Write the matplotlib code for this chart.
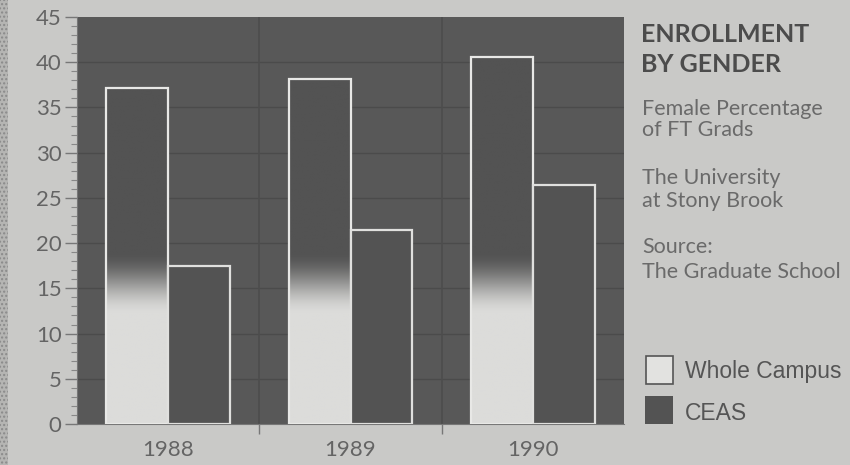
"""
Enrollment by gender: female percentage of full-time grads,
Whole Campus vs CEAS, The University at Stony Brook.
"""
import numpy as np
import matplotlib
matplotlib.use('Agg')
import matplotlib.pyplot as plt
from matplotlib.patches import Rectangle

years = ['1988', '1989', '1990']
whole_campus = [37.2, 38.2, 40.6]
ceas = [17.5, 21.4, 26.4]

paper = '#c9c9c7'
plot_bg = '#585858'
bar_dark = '#535353'
bar_light = '#dcdcda'
text_col = '#646464'

fig = plt.figure(figsize=(8.5, 4.65), dpi=100, facecolor=paper)
ax = fig.add_axes([77 / 850, 1 - 424 / 465, (624 - 77) / 850, (424 - 17) / 465])
ax.set_facecolor(plot_bg)

x = np.arange(len(years))
width = 0.34

wc_bars = ax.bar(x - width / 2, whole_campus, width, color='none',
                 edgecolor='#e8e8e6', linewidth=1.6, zorder=3)
ceas_bars = ax.bar(x + width / 2, ceas, width, color=bar_dark,
                   edgecolor='#e0e0de', linewidth=1.6, zorder=3)

# whole campus bars fade from light at the bottom to dark near 12-19
grad = np.linspace(0, 45, 300)
t = np.clip((grad - 12.0) / 7.0, 0, 1)
shade = t * t * (3 - 2 * t)
cmap = matplotlib.colors.LinearSegmentedColormap.from_list('fade', [bar_light, bar_dark])
for b in wc_bars:
    x0, w, h = b.get_x(), b.get_width(), b.get_height()
    img = ax.imshow(shade[:, None], cmap=cmap, vmin=0, vmax=1, origin='lower',
                    extent=[x0, x0 + w, 0, 45], aspect='auto', zorder=2,
                    interpolation='bilinear')
    clip = Rectangle((x0, 0), w, h, transform=ax.transData)
    img.set_clip_path(clip)

ax.set_xlim(-0.5, len(years) - 0.5)
ax.set_ylim(0, 45)

# faint grid on the dark background
for yv in range(5, 45, 5):
    ax.axhline(yv, color='#4b4b4b', linewidth=1.0, zorder=1)
for xv in x[:-1] + 0.5:
    ax.axvline(xv, color='#4d4d4d', linewidth=1.2, zorder=1)

ax.set_yticks(range(0, 46, 5))
ax.set_yticks(range(0, 46, 1), minor=True)
ax.set_xticks(x[:-1] + 0.5)
ax.set_xticklabels([])
ax.tick_params(axis='y', which='major', length=9, width=1, color='#777777',
               labelsize=16, labelcolor=text_col, pad=2)
ax.tick_params(axis='y', which='minor', length=4, width=0.8, color='#888888')
ax.tick_params(axis='x', which='major', length=7, width=1, color='#777777')
for yr_x, yr in zip(x, years):
    ax.text(yr_x, -1.8, yr, ha='center', va='top', fontsize=16, color=text_col,
            family='Lato')
for lab in ax.get_yticklabels():
    lab.set_family('Lato')

for side in ['top', 'right']:
    ax.spines[side].set_visible(False)
ax.spines['left'].set_color('#777777')
ax.spines['bottom'].set_color('#777777')

# right-hand text block, one line at a time on its baseline
title_lines = [('ENROLLMENT', 42), ('BY GENDER', 72)]
for txt, base in title_lines:
    fig.text(641 / 850, 1 - base / 465, txt, ha='left', va='baseline',
             fontsize=18, fontweight='bold', color='#4c4c4c', family='Lato')
note_lines = [('Female Percentage', 115), ('of FT Grads', 136),
              ('The University', 184), ('at Stony Brook', 207),
              ('Source:', 253), ('The Graduate School', 278)]
for txt, base in note_lines:
    fig.text(642 / 850, 1 - base / 465, txt, ha='left', va='baseline',
             fontsize=15.5, color='#6a6a6a', family='Lato')

# legend
fig.patches.append(Rectangle((646 / 850, 1 - 384 / 465), 27 / 850, 28 / 465,
                             transform=fig.transFigure, facecolor='#e2e2e0',
                             edgecolor='#555555', linewidth=1.2))
fig.patches.append(Rectangle((645 / 850, 1 - 424 / 465), 28 / 850, 28 / 465,
                             transform=fig.transFigure, facecolor=bar_dark,
                             edgecolor='none'))
fig.text(685 / 850, 1 - 378 / 465, 'Whole Campus', ha='left', va='baseline',
         fontsize=16.5, color='#555555', family='Liberation Sans')
fig.text(685 / 850, 1 - 420 / 465, 'CEAS', ha='left', va='baseline',
         fontsize=16.5, color='#555555', family='Liberation Sans')

# dotted border strip at the left edge of the clipping
fig.patches.append(Rectangle((0, 0), 8 / 850, 1, transform=fig.transFigure,
                             facecolor='#b5b5b3', edgecolor='#8a8a8a',
                             hatch='....', linewidth=0))

fig.savefig('out.png', dpi=100, facecolor=paper)
